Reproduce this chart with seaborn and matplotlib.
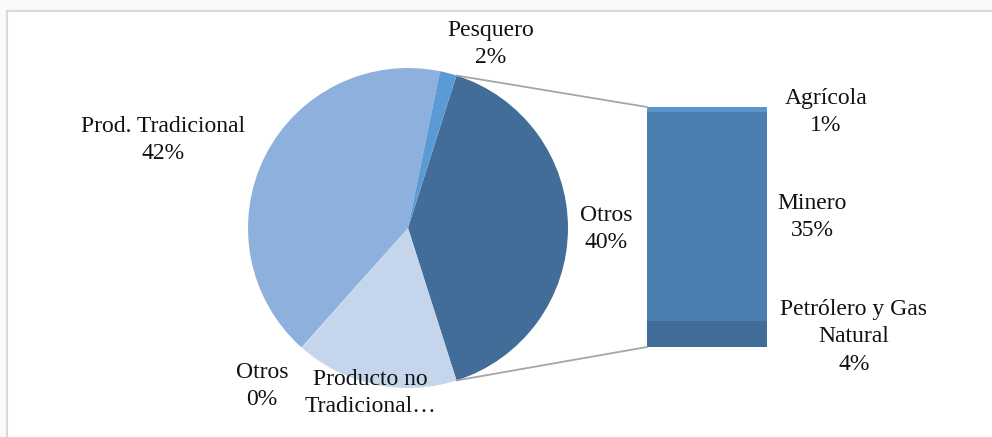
import matplotlib
matplotlib.use("Agg")
import numpy as np
import pandas as pd
import matplotlib.pyplot as plt
from matplotlib.patches import Rectangle, ConnectionPatch
import seaborn as sns

# main pie, clockwise starting with the "Otros" group that is broken out into the bar
pie_labels = ["Otros", "Producto no\nTradicional…", "Otros", "Prod. Tradicional", "Pesquero"]
pie_values = [40.2, 16.4, 0.1, 41.6, 1.7]
pie_colors = ["#416d98", "#c5d6ec", "#c5d6ec", "#8db1dc", "#5b9bd5"]

# breakdown of "Otros", bottom to top
bar_labels = ["Petrólero y Gas\nNatural", "Minero", "Agrícola"]
bar_values = [4.4, 35.0, 0.8]
bar_colors = ["#426c98", "#4a7fb0", "#5a96cd"]

W, H = 992, 437

sns.set_theme(style="white")
plt.rcParams["font.family"] = ["Liberation Serif", "DejaVu Serif"]

fig = plt.figure(figsize=(W / 100, H / 100), dpi=100)
fig.patch.set_facecolor("#fafafa")
fig.patches.append(Rectangle((7 / W, -0.05), 1.1, 1 - 11 / H + 0.05,
                             transform=fig.transFigure, facecolor="white",
                             edgecolor="#d9d9d9", linewidth=1.5, zorder=-5))


def px(x, y):
    return x / W, 1 - y / H


# pie axes: centre (408, 228), radius 160 px
cx, cy, r = 408, 228, 160
ax_pie = fig.add_axes([(cx - 1.25 * r) / W, (H - cy - 1.25 * r) / H,
                       2.5 * r / W, 2.5 * r / H])
start = pie_values[0] / sum(pie_values) * 360 / 2
wedges, _ = ax_pie.pie(pie_values, colors=pie_colors, startangle=start,
                       counterclock=False, wedgeprops=dict(linewidth=0))
ax_pie.set_xlim(-1.25, 1.25)
ax_pie.set_ylim(-1.25, 1.25)
ax_pie.set_aspect("equal")
ax_pie.patch.set_alpha(0)

# bar axes: stacked bar drawn as overlapping cumulative bars
bx0, bx1, by_top, by_bot = 647, 767, 107, 347
ax_bar = fig.add_axes([bx0 / W, (H - by_bot) / H, (bx1 - bx0) / W, (by_bot - by_top) / H])
cum = np.cumsum(bar_values)
df = pd.DataFrame({"grp": ["Otros"] * len(bar_values), "cum": cum, "name": bar_labels})
for i in range(len(bar_values) - 1, -1, -1):
    sns.barplot(data=df.iloc[[i]], x="grp", y="cum", color=bar_colors[i],
                width=1.0, saturation=1, ax=ax_bar, linewidth=0)
ax_bar.set_xlim(-0.5, 0.5)
ax_bar.set_ylim(0, cum[-1])
ax_bar.axis("off")

# connector lines from the "Otros" wedge to the bar
w0 = wedges[0]
for ang, yb in [(w0.theta2, cum[-1]), (w0.theta1, 0)]:
    t = np.deg2rad(ang)
    con = ConnectionPatch(xyA=(np.cos(t), np.sin(t)), coordsA=ax_pie.transData,
                          xyB=(-0.5, yb), coordsB=ax_bar.transData,
                          color="#a6a6a6", linewidth=1.3)
    fig.add_artist(con)

fs = 17
ls = 1.42
pie_pos = [(606, 229), (370, 393), (262, 386), (163, 140), (491, 44)]
for lab, v, (x, y) in zip(pie_labels, pie_values, pie_pos):
    txt = lab if lab.endswith("…") else f"{lab}\n{v:.0f}%"
    fig.text(*px(x, y), txt, ha="center", va="center", fontsize=fs,
             linespacing=ls, color="#111111")

bar_pos = [(854, 337), (812, 217), (826, 112)]
for lab, v, (x, y) in zip(bar_labels, bar_values, bar_pos):
    fig.text(*px(x, y), f"{lab}\n{v:.0f}%", ha="center", va="center",
             fontsize=fs, linespacing=ls, color="#111111")

fig.savefig("out.png", dpi=100, facecolor=fig.get_facecolor())
